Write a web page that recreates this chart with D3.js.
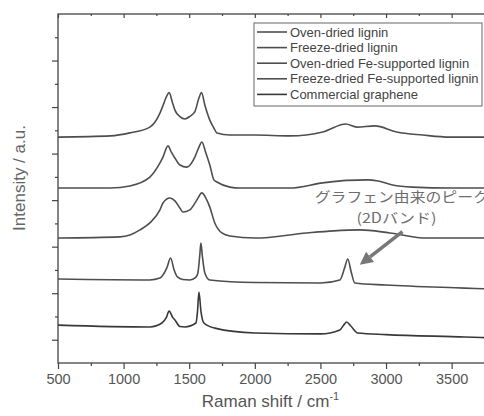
<!DOCTYPE html>
<html><head><meta charset="utf-8">
<script src="https://cdn.jsdelivr.net/npm/d3@7"></script>
<style>
html,body{margin:0;padding:0;background:#fff;}
svg{display:block;font-family:"Liberation Sans",Arial,sans-serif;}
</style></head>
<body><svg id="c" width="484" height="416"></svg>
<script>
// ---- data (Raman shift cm-1, intensity a.u. with vertical offsets) ----
const seriesNames = ["Oven-dried lignin","Freeze-dried lignin","Oven-dried Fe-supported lignin","Freeze-dried Fe-supported lignin","Commercial graphene"];
const ovenLignin = [[500,9.71],[900,9.76],[1048,9.89],[1200,10.14],[1277,10.74],[1302,11.09],[1322,11.39],[1347,11.62],[1372,11.2],[1391,10.87],[1429,10.59],[1467,10.49],[1505,10.6],[1543,10.8],[1574,11.39],[1594,11.62],[1619,11.09],[1657,10.44],[1688,10.1],[1711,9.89],[1810,9.80],[2000,9.80],[2267,9.76],[2518,9.93],[2693,10.27],[2777,10.14],[2914,10.19],[3081,9.93],[3279,9.80],[3485,9.71],[3800,9.71]];
const freezeLignin = [[500,7.52],[900,7.52],[1048,7.61],[1200,7.99],[1277,8.60],[1300,8.85],[1338,9.33],[1365,9.05],[1391,8.81],[1429,8.51],[1482,8.42],[1543,8.85],[1574,9.28],[1596,9.50],[1627,9.03],[1657,8.51],[1688,7.87],[1711,7.78],[1810,7.56],[1886,7.52],[2267,7.52],[2518,7.74],[2700,7.85],[2860,7.87],[2940,7.82],[3050,7.65],[3200,7.56],[3500,7.52],[3800,7.52]];
const ovenFe = [[500,5.37],[972,5.42],[1048,5.50],[1125,5.72],[1200,6.02],[1277,6.58],[1300,6.88],[1353,7.09],[1391,6.97],[1429,6.66],[1452,6.49],[1505,6.58],[1558,7.0],[1596,7.31],[1627,7.09],[1657,6.70],[1695,6.02],[1749,5.59],[1810,5.46],[2000,5.37],[2396,5.59],[2600,5.68],[2800,5.72],[3028,5.59],[3310,5.37],[3800,5.37]];
const freezeFe = [[500,3.61],[1200,3.57],[1277,3.65],[1300,3.78],[1330,4.1],[1358,4.51],[1385,4.0],[1410,3.7],[1450,3.59],[1505,3.57],[1550,3.68],[1566,3.87],[1580,4.6],[1589,5.16],[1600,4.6],[1619,3.87],[1657,3.57],[2000,3.46],[2500,3.44],[2648,3.57],[2685,4.1],[2708,4.47],[2735,3.9],[2762,3.44],[3000,3.35],[3600,3.22],[3800,3.18]];
const graphene = [[500,1.63],[1200,1.55],[1292,1.72],[1325,1.95],[1347,2.23],[1375,1.95],[1391,1.85],[1429,1.57],[1467,1.55],[1551,1.72],[1563,2.2],[1574,3.05],[1590,2.2],[1612,1.72],[1695,1.50],[2000,1.29],[2500,1.25],[2648,1.42],[2680,1.65],[2700,1.76],[2730,1.6],[2785,1.29],[3000,1.22],[3600,1.12],[3800,1.08]];
const allSeries = [ovenLignin, freezeLignin, ovenFe, freezeFe, graphene];
const xMajorTicks = [500,1000,1500,2000,2500,3000,3500];
const xMinorTicks = [750,1250,1750,2250,2750,3250,3750];
const yMajorTicks = [1,3,5,7,9,11,13];
const yMinorTicks = [2,4,6,8,10,12,14];
const annotLines = ["グラフェン由来のピーク","(2Dバンド)"];
const annotPos = {text1:[2457,6.92], text2:[2775,6.02], arrowFrom:[3125,5.65], arrowTo:[2800,4.22]};

// ---- layout ----
const svg = d3.select("#c");
const L=58, T=14, B=363, R=491;
const x = d3.scaleLinear().domain([500,3800]).range([L,R]);
const y = d3.scaleLinear().domain([0,15]).range([B,T]);
const axisCol="#444", lineCol="#4e4e4e";

// frame
svg.append("rect").attr("x",L).attr("y",T).attr("width",R-L).attr("height",B-T)
  .attr("fill","none").attr("stroke",axisCol).attr("stroke-width",1.3);

// bottom axis
const bx = svg.append("g").attr("transform",`translate(0,${B})`);
bx.call(d3.axisBottom(x).tickValues(xMajorTicks).tickSize(6).tickFormat(d3.format("d")));
const bxm = svg.append("g").attr("transform",`translate(0,${B})`);
bxm.call(d3.axisBottom(x).tickValues(xMinorTicks).tickSize(3).tickFormat(""));
// top axis (inward)
svg.append("g").attr("transform",`translate(0,${T})`).call(d3.axisBottom(x).tickValues(xMajorTicks).tickSize(4).tickFormat(""));
svg.append("g").attr("transform",`translate(0,${T})`).call(d3.axisBottom(x).tickValues(xMinorTicks).tickSize(2).tickFormat(""));
// left axis
svg.append("g").attr("transform",`translate(${L},0)`).call(d3.axisLeft(y).tickValues(yMajorTicks).tickSize(6).tickFormat(""));
svg.append("g").attr("transform",`translate(${L},0)`).call(d3.axisLeft(y).tickValues(yMinorTicks).tickSize(3).tickFormat(""));
svg.selectAll(".domain").remove();
svg.selectAll(".tick line").attr("stroke",axisCol).attr("stroke-width",1.2);
bx.selectAll(".tick text").attr("font-size",14.5).attr("fill","#555")
  .attr("font-family","'Liberation Sans',Arial,sans-serif").attr("dy","1.05em").attr("y",6);

// axis titles
const xt = svg.append("text").attr("x",(L+R)/2-4).attr("y",407).attr("text-anchor","middle")
  .attr("font-size",17).attr("fill","#555");
xt.append("tspan").text("Raman shift / cm");
xt.append("tspan").attr("dy",-7).attr("font-size",11).text("-1");
svg.append("text").attr("transform",`translate(25,178) rotate(-90)`).attr("text-anchor","middle")
  .attr("font-size",17).attr("fill","#666").text("Intensity / a.u.");

// curves
const line = d3.line().x(d=>x(d[0])).y(d=>y(d[1])).curve(d3.curveMonotoneX);
svg.append("clipPath").attr("id","clp").append("rect").attr("x",L).attr("y",T).attr("width",R-L).attr("height",B-T);
const cols=[lineCol,lineCol,lineCol,lineCol,"#383838"];
svg.append("g").attr("clip-path","url(#clp)").selectAll("path").data(allSeries).join("path")
  .attr("d",line).attr("fill","none").attr("stroke",(d,i)=>cols[i]).attr("stroke-width",1.6)
  .attr("stroke-linejoin","round");

// legend
const lg = svg.append("g");
lg.append("rect").attr("x",254).attr("y",23).attr("width",228).attr("height",83)
  .attr("fill","#fff").attr("stroke","#666").attr("stroke-width",1);
seriesNames.forEach((n,i)=>{
  const cy = 32 + i*15.6;
  lg.append("line").attr("x1",257).attr("x2",287).attr("y1",cy).attr("y2",cy)
    .attr("stroke",cols[i]).attr("stroke-width",1.6);
  lg.append("text").attr("x",290).attr("y",cy+4.5).attr("font-size",13).attr("fill","#444").text(n);
});

// annotation
const jp = "'Noto Sans CJK JP',sans-serif";
svg.append("text").attr("x",x(annotPos.text1[0])).attr("y",y(annotPos.text1[1]))
  .attr("font-family",jp).attr("font-size",14).attr("fill","#6e6e6e")
  .attr("textLength",174).attr("lengthAdjust","spacingAndGlyphs").text(annotLines[0]);
svg.append("text").attr("x",x(annotPos.text2[0])).attr("y",y(annotPos.text2[1]))
  .attr("font-family",jp).attr("font-size",14).attr("fill","#6e6e6e")
  .attr("textLength",80).attr("lengthAdjust","spacingAndGlyphs").text(annotLines[1]);
const ax0=x(annotPos.arrowFrom[0]), ay0=y(annotPos.arrowFrom[1]);
const ax1=x(annotPos.arrowTo[0]), ay1=y(annotPos.arrowTo[1]);
const ang=Math.atan2(ay1-ay0, ax1-ax0), hl=13, hw=6.5;
const bxp=ax1-hl*Math.cos(ang), byp=ay1-hl*Math.sin(ang);
svg.append("line").attr("x1",ax0).attr("y1",ay0).attr("x2",bxp).attr("y2",byp)
  .attr("stroke","#777").attr("stroke-width",3.5);
svg.append("path").attr("d",d3.line()([[ax1,ay1],[bxp+hw*Math.sin(ang),byp-hw*Math.cos(ang)],[bxp-hw*Math.sin(ang),byp+hw*Math.cos(ang)]])+"Z")
  .attr("fill","#777");
</script></body></html>
